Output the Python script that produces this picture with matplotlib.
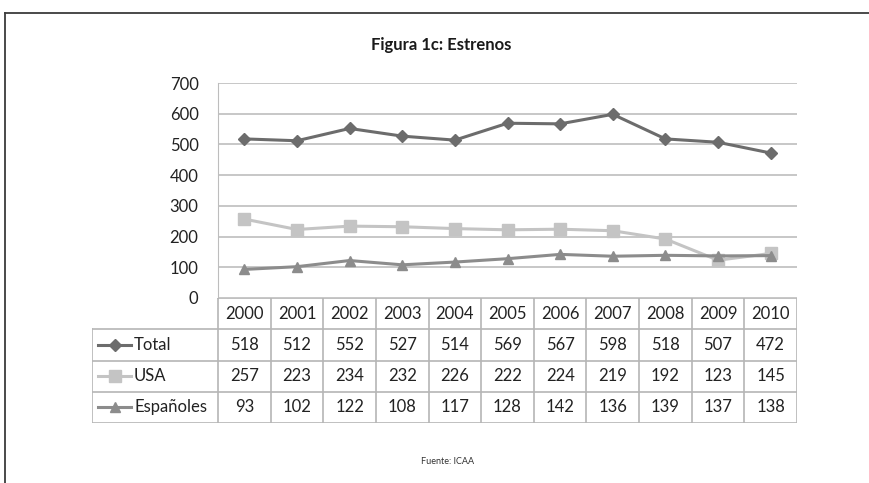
import matplotlib
matplotlib.use("Agg")
import matplotlib.pyplot as plt
from matplotlib.lines import Line2D

plt.rcParams['font.family'] = ['Lato', 'DejaVu Sans']

years = ["2000", "2001", "2002", "2003", "2004", "2005", "2006", "2007", "2008", "2009", "2010"]
total = [518, 512, 552, 527, 514, 569, 567, 598, 518, 507, 472]
usa = [257, 223, 234, 232, 226, 222, 224, 219, 192, 123, 145]
espanoles = [93, 102, 122, 108, 117, 128, 142, 136, 139, 137, 138]
series_names = ["Total", "USA", "Españoles"]
series_values = [total, usa, espanoles]
colors = ["#6c6c6c", "#c4c4c4", "#8c8c8c"]
markers = ["D", "s", "^"]
msizes = [6.5, 8, 7.5]

W, H = 869, 483
fig = plt.figure(figsize=(W / 100, H / 100), dpi=100)

def fx(px):
    return px / W

def fy(py):
    return 1 - py / H

# frame lines (top and left)
fig.add_artist(Line2D([fx(5), fx(869)], [fy(13), fy(13)], color="#3c3c3c", lw=1.3))
fig.add_artist(Line2D([fx(5), fx(5)], [fy(13), fy(483)], color="#3c3c3c", lw=1.3))

fig.text(fx(441), fy(45), "Figura 1c: Estrenos", ha="center", va="center",
         fontsize=12, fontweight="bold", color="#1a1a1a")
fig.text(fx(448), fy(462), "Fuente: ICAA", ha="center", va="center",
         fontsize=6.5, color="#333333")

L, R, T, B = 218, 797, 83, 298
ax = fig.add_axes([fx(L), fy(B), fx(R - L), (B - T) / H])
n = len(years)
xs = list(range(n))
ax.set_xlim(-0.5, n - 0.5)
ax.set_ylim(0, 700)
ax.set_yticks(range(0, 701, 100))
ax.set_xticks([])
ax.grid(axis="y", color="#bdbdbd", lw=1.2)
ax.set_axisbelow(True)
for s in ["top", "right", "bottom"]:
    ax.spines[s].set_visible(False)
ax.spines["left"].set_color("#bdbdbd")
ax.tick_params(axis="y", length=0, pad=14, labelsize=12, labelcolor="#222222")

for vals, c, m, ms in zip(series_values, colors, markers, msizes):
    ax.plot(xs, vals, color=c, lw=2.2, marker=m, markersize=ms,
            markerfacecolor=c, markeredgecolor=c, zorder=3)

# data table
TL = 92
TB = 423
colw = (R - L) / n
tab = fig.add_axes([fx(TL), fy(TB), fx(R - TL), (TB - B) / H])
left_units = -0.5 - (L - TL) / colw
tab.set_xlim(left_units, n - 0.5)
tab.set_ylim(4, 0)
tab.axis("off")
lc = "#b5b5b5"
# horizontal lines
tab.plot([-0.5, n - 0.5], [0, 0], color=lc, lw=1.2)
for r in range(1, 5):
    tab.plot([left_units, n - 0.5], [r, r], color=lc, lw=1.2)
# vertical lines
tab.plot([left_units, left_units], [1, 4], color=lc, lw=1.2)
for i in range(n + 1):
    tab.plot([i - 0.5, i - 0.5], [0, 4], color=lc, lw=1.2)

fs = 12
for i, y in enumerate(years):
    tab.text(i, 0.5, y, ha="center", va="center", fontsize=fs, color="#222222")
for r, (name, vals, c, m, ms) in enumerate(zip(series_names, series_values, colors, markers, msizes), start=1):
    x0 = left_units + 6 / colw
    x1 = left_units + 39 / colw
    tab.plot([x0, x1], [r + 0.5, r + 0.5], color=c, lw=2.2)
    tab.plot([(x0 + x1) / 2], [r + 0.5], marker=m, markersize=ms, color=c)
    tab.text(x1 + 3 / colw, r + 0.5, name, ha="left", va="center", fontsize=fs, color="#222222")
    for i, v in enumerate(vals):
        tab.text(i, r + 0.5, str(v), ha="center", va="center", fontsize=fs, color="#222222")

fig.savefig("out.png", dpi=100, facecolor="white")
